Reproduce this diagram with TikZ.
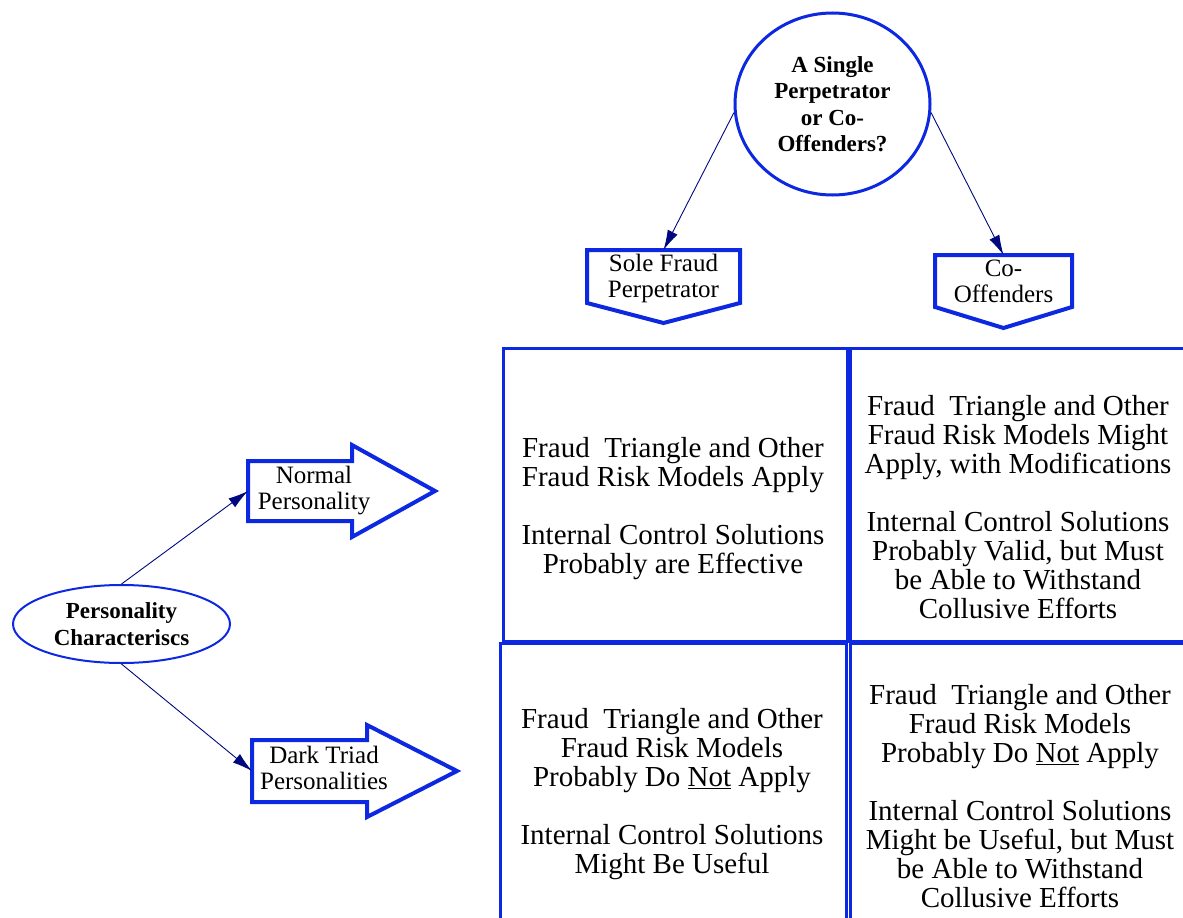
\documentclass[tikz,border=0pt]{standalone}
\usepackage{fontspec}
\setmainfont{Liberation Serif}
\newfontfamily\cellfont{Liberation Serif}
\usetikzlibrary{calc,shapes.geometric,arrows.meta}
\definecolor{frameblue}{RGB}{12,40,224}
\definecolor{linknavy}{RGB}{0,8,128}
\tikzset{
  outline/.style={draw=frameblue,line width=4pt,line join=miter},
  gridline/.style={draw=frameblue,line width=3pt},
  link/.style={draw=linknavy,line width=0.9pt,-{Latex[length=20pt,width=11pt]}},
  body/.style={inner sep=0pt,outer sep=0pt},
  celltext/.style={align=center,inner sep=0pt,font=\cellfont\fontsize{29}{29}\selectfont},
  smalltext/.style={align=center,inner sep=0pt,font=\cellfont\fontsize{25}{26}\selectfont},
  boldtext/.style={align=center,inner sep=0pt,font=\cellfont\bfseries\fontsize{23}{26.5}\selectfont},
}
\begin{document}
\begin{tikzpicture}[x=1pt,y=-1pt]
\useasboundingbox (0,0) rectangle (1183,918);
\clip (0,0) rectangle (1183,918);

% question circle
\node[ellipse,draw=frameblue,line width=3pt,minimum width=195pt,minimum height=182pt,boldtext]
  (q) at (832.5,104) {A Single\\Perpetrator\\or Co-\\Offenders?};

% down-pointing boxes
\node[body,minimum width=153pt,minimum height=53pt] (sole) at (663.5,276.5) {};
\draw[outline] (sole.north west) -- (sole.north east) -- (sole.south east)
  -- ($(sole.south)+(0,20)$) -- (sole.south west) -- cycle;
\node[smalltext] (soletxt) at (663.5,278) {Sole Fraud\\Perpetrator};

\node[body,minimum width=137pt,minimum height=52pt] (co) at (1003.5,281) {};
\draw[outline] (co.north west) -- (co.north east) -- (co.south east)
  -- ($(co.south)+(0,21)$) -- (co.south west) -- cycle;
\node[smalltext] (cotxt) at (1003.5,281) {Co-\\Offenders};

\draw[link] (q.185) -- (sole.north);
\draw[link] (q.-5) -- (co.north);

% 2x2 grid of cells
\node[body,gridline,minimum width=344pt,minimum height=293pt] (c11) at (675,494.5) {};
\node[body,gridline,minimum width=344pt,minimum height=293pt] (c12) at (1022,494.5) {};
\node[body,gridline,minimum width=346pt,minimum height=306pt] (c21) at (673,796) {};
\node[body,gridline,minimum width=344pt,minimum height=306pt] (c22) at (1022,796) {};

\node[celltext] (t11) at (673,509) {Fraud\ \ Triangle and Other\\Fraud Risk Models Apply\\[29pt]Internal Control Solutions\\Probably are Effective};
\node[celltext] (t12) at (1018,507) {Fraud\ \ Triangle and Other\\Fraud Risk Models Might\\Apply, with Modifications\\[29pt]Internal Control Solutions\\Probably Valid, but Must\\be Able to Withstand\\Collusive Efforts};
\node[celltext] (t21) at (672,794) {Fraud\ \ Triangle and Other\\Fraud Risk Models\\Probably Do \underline{Not} Apply\\[29pt]Internal Control Solutions\\Might Be Useful};
\node[celltext] (t22) at (1020,796.5) {Fraud\ \ Triangle and Other\\Fraud Risk Models\\Probably Do \underline{Not} Apply\\[29pt]Internal Control Solutions\\Might be Useful, but Must\\be Able to Withstand\\Collusive Efforts};

% personality ellipse
\node[ellipse,draw=frameblue,line width=2pt,minimum width=217pt,minimum height=78pt,boldtext]
  (pers) at (121.5,624) {Personality\\Characteriscs};

% right-pointing block arrows
\node[body,minimum width=104pt,minimum height=60pt] (normal) at (300,491) {};
\draw[outline] (normal.north west) -- ($(normal.north east)$) -- ($(normal.north east)+(0,-16)$)
  -- ($(normal.east)+(83,0)$) -- ($(normal.south east)+(0,16)$) -- (normal.south east)
  -- (normal.south west) -- cycle;
\node[smalltext] (normaltxt) at (314,491) {Normal\\Personality};

\node[body,minimum width=115pt,minimum height=62pt] (dark) at (309.5,771) {};
\draw[outline] (dark.north west) -- (dark.north east) -- ($(dark.north east)+(0,-15)$)
  -- ($(dark.east)+(90,0)$) -- ($(dark.south east)+(0,15)$) -- (dark.south east)
  -- (dark.south west) -- cycle;
\node[smalltext] (darktxt) at (324,768) {Dark Triad\\Personalities};

\draw[link] (pers.north) -- (normal.west);
\draw[link] (pers.south) -- (dark.west);
\end{tikzpicture}
\end{document}
